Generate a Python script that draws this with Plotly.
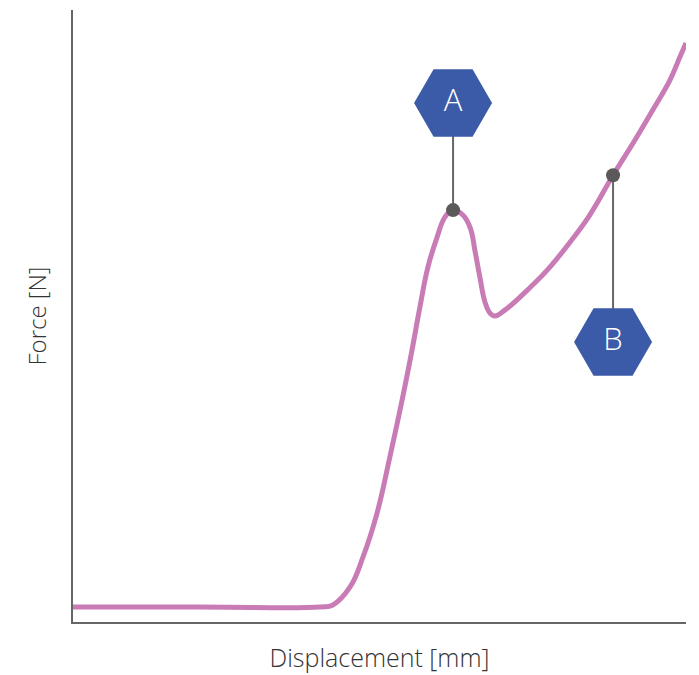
import plotly.graph_objects as go

# force-displacement curve (arbitrary units, 0-100 on both axes)
disp = [0, 20.7, 40.3, 42.4, 45.2, 47.3, 49.6, 51.7, 53.8, 55.3, 56.6, 57.9,
        59.4, 60.7, 62.0, 63.6, 64.8, 65.6, 66.4, 67.2, 68.0, 68.8, 70.5,
        74.6, 77.8, 81.1, 84.3, 88.1, 91.4, 94.6, 97.4, 99.0, 100.0]
force = [2.45, 2.45, 2.45, 2.78, 5.72, 10.6, 17.8, 27.0, 36.8, 44.4, 51.5, 58.0,
         62.9, 66.2, 67.3, 66.5, 64.4, 60.5, 56.2, 52.3, 50.5, 50.0, 51.0,
         54.7, 58.0, 62.1, 66.5, 73.0, 78.3, 83.7, 88.6, 92.3, 94.6]

# marked points and where their labels sit
point_names = ["A", "B"]
point_x = [62.0, 88.1]
point_y = [67.3, 73.0]
label_y = [84.8, 45.75]

PINK = "#c97bb6"
BLUE = "#3b5aa7"
GREY = "#666666"
FONT = "Open Sans"

fig = go.Figure()

for px, py, ly in zip(point_x, point_y, label_y):
    fig.add_trace(go.Scatter(
        x=[px, px], y=[py, ly], mode="lines",
        line=dict(color=GREY, width=2), hoverinfo="skip", showlegend=False
    ))

fig.add_trace(go.Scatter(
    x=disp, y=force, mode="lines",
    line=dict(color=PINK, width=5, shape="spline", smoothing=1.2),
    showlegend=False
))

fig.add_trace(go.Scatter(
    x=point_x, y=point_y, mode="markers",
    marker=dict(color="#5b5959", size=14), showlegend=False
))

fig.add_trace(go.Scatter(
    x=point_x, y=label_y, mode="markers+text",
    text=point_names, textposition="middle center",
    textfont=dict(family=FONT, size=31, color="white", weight=300),
    marker=dict(symbol="hexagon2", color=BLUE, size=78, line=dict(width=0)),
    showlegend=False
))

# page body adds an 8px offset, so the figure is 8px smaller than the window
fig.update_layout(
    width=691, height=667,
    margin=dict(l=65, r=13, t=2, b=53),
    plot_bgcolor="white", paper_bgcolor="white",
    font=dict(family=FONT, color="#333333", size=22, weight=300),
)
fig.update_xaxes(
    range=[0, 100], showline=True, linecolor=GREY, linewidth=2,
    showgrid=False, zeroline=False, showticklabels=False, ticks="",
    title=dict(text="Displacement [mm]", standoff=26,
               font=dict(size=25, weight=300))
)
fig.update_yaxes(
    range=[0, 100], showline=True, linecolor=GREY, linewidth=2,
    showgrid=False, zeroline=False, showticklabels=False, ticks="",
    title=dict(text="Force [N]", standoff=18,
               font=dict(size=24, weight=300))
)

fig.write_html("out.html")
